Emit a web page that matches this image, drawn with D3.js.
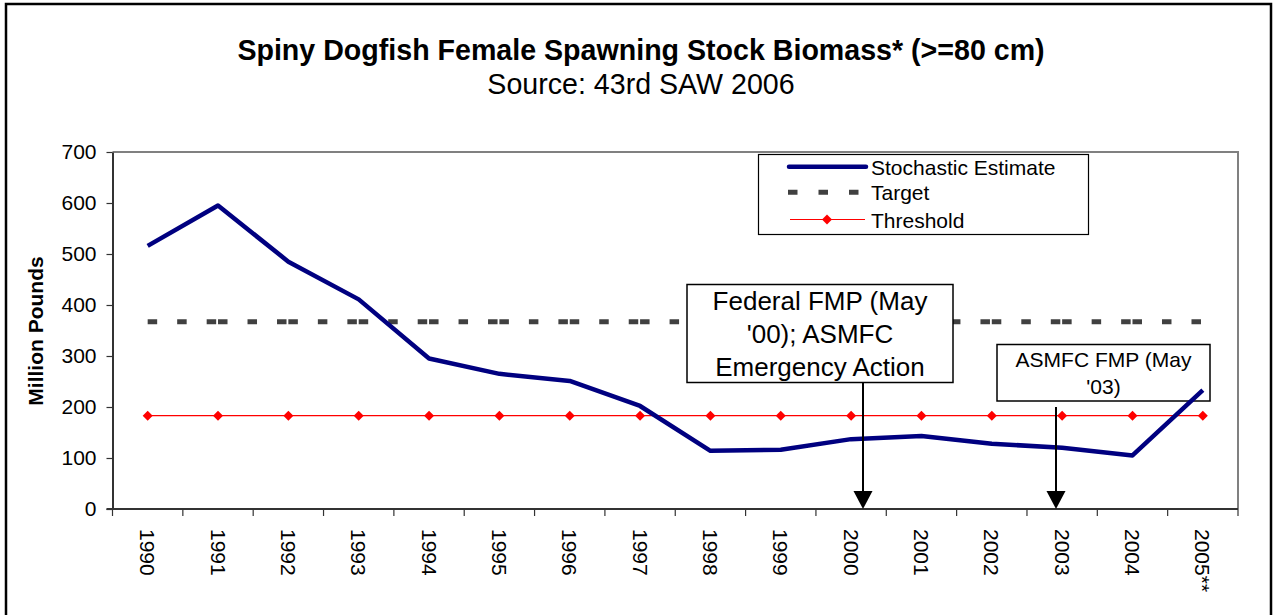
<!DOCTYPE html>
<html>
<head>
<meta charset="utf-8">
<script src="https://cdn.jsdelivr.net/npm/d3@7"></script>
<style>
  body { margin: 0; background: #fff; }
  svg { display: block; font-family: "Liberation Sans", Arial, sans-serif; }
</style>
</head>
<body>
<svg id="chart" width="1275" height="615"></svg>
<script>
// data
const years = ['1990', '1991', '1992', '1993', '1994', '1995', '1996', '1997',
  '1998', '1999', '2000', '2001', '2002', '2003', '2004', '2005**'];
const stochastic = [516, 595, 485, 411, 295, 265, 251, 202, 114, 116, 137, 143, 128, 120, 105, 233];
const target = [367, 367, 367, 367, 367, 367, 367, 367, 367, 367, 367, 367, 367, 367, 367, 367];
const threshold = [183, 183, 183, 183, 183, 183, 183, 183, 183, 183, 183, 183, 183, 183, 183, 183];
const yTicks = [0, 100, 200, 300, 400, 500, 600, 700];
const legendLabels = ['Stochastic Estimate', 'Target', 'Threshold'];

function drawChart() {
  const svg = d3.select('#chart');

  // outer frame
  svg.append('rect')
    .attr('x', 6).attr('y', 4)
    .attr('width', 1265).attr('height', 640)
    .attr('fill', 'none')
    .attr('stroke', '#000')
    .attr('stroke-width', 2.5);

  // titles
  svg.append('text')
    .attr('x', 641).attr('y', 59.5)
    .attr('text-anchor', 'middle')
    .attr('font-size', 28.6)
    .attr('font-weight', 'bold')
    .text('Spiny Dogfish Female Spawning Stock Biomass* (>=80 cm)');

  svg.append('text')
    .attr('x', 641).attr('y', 93.5)
    .attr('text-anchor', 'middle')
    .attr('font-size', 28.6)
    .text('Source: 43rd SAW 2006');

  const plotL = 112.5, plotR = 1238, plotT = 152, plotB = 509;

  const x = d3.scaleBand().domain(years).range([plotL, plotR]).padding(0);
  const y = d3.scaleLinear().domain([0, 700]).range([plotB, plotT]);
  const cx = d => x(d) + x.bandwidth() / 2;

  // plot area border (top and right grey)
  svg.append('path')
    .attr('d', `M${plotL},${plotT}H${plotR}V${plotB}`)
    .attr('fill', 'none')
    .attr('stroke', '#808080')
    .attr('stroke-width', 2);

  // y axis
  const yAxis = svg.append('g')
    .attr('transform', `translate(${plotL},0)`)
    .call(d3.axisLeft(y).tickValues(yTicks).tickSize(6).tickSizeOuter(0).tickPadding(10));
  yAxis.select('.domain').attr('stroke', '#333').attr('stroke-width', 2);
  yAxis.selectAll('.tick line').attr('stroke', '#333').attr('stroke-width', 1.2);
  yAxis.selectAll('.tick text')
    .attr('font-size', 21)
    .attr('font-family', '"Liberation Sans", Arial, sans-serif')
    .attr('fill', '#000');

  svg.append('text')
    .attr('transform', 'translate(43,331) rotate(-90)')
    .attr('text-anchor', 'middle')
    .attr('font-size', 21)
    .attr('font-weight', 'bold')
    .text('Million Pounds');

  // x axis
  svg.append('line')
    .attr('x1', plotL - 6).attr('x2', plotR)
    .attr('y1', plotB).attr('y2', plotB)
    .attr('stroke', '#333').attr('stroke-width', 2);

  const tickXs = years.map(d => x(d)).concat([plotR]);
  svg.append('g').selectAll('line')
    .data(tickXs)
    .join('line')
    .attr('x1', d => d).attr('x2', d => d)
    .attr('y1', plotB).attr('y2', plotB + 7)
    .attr('stroke', '#333').attr('stroke-width', 1.2);

  svg.append('g').selectAll('text')
    .data(years)
    .join('text')
    .attr('transform', d => `translate(${cx(d)},529) rotate(90)`)
    .attr('dy', '0.35em')
    .attr('font-size', 21)
    .text(d => d);

  // target line: Excel restarts the dash pattern on each segment
  const pairs = arr => d3.pairs(arr.map((v, i) => [cx(years[i]), y(v)]));
  svg.append('g').selectAll('line')
    .data(pairs(target))
    .join('line')
    .attr('x1', d => d[0][0]).attr('y1', d => d[0][1])
    .attr('x2', d => d[1][0]).attr('y2', d => d[1][1])
    .attr('stroke', '#404040')
    .attr('stroke-width', 5)
    .attr('stroke-dasharray', '9.5,20');

  // annotation boxes
  const notes = [
    { lines: ['Federal FMP (May', '\'00); ASMFC', 'Emergency Action'], x0: 687, y0: 284.5, w: 266, h: 98, fs: 26, lh: 33.4, base: 309.5, ax: 863, ay: 382.5 },
    { lines: ['ASMFC FMP (May', '\'03)'], x0: 997, y0: 344.5, w: 213, h: 56.5, fs: 21, lh: 27, base: 366.5, ax: 1056, ay: 407 }
  ];

  notes.forEach(n => {
    svg.append('rect')
      .attr('x', n.x0).attr('y', n.y0)
      .attr('width', n.w).attr('height', n.h)
      .attr('fill', '#fff')
      .attr('stroke', '#000')
      .attr('stroke-width', 1.5);
    n.lines.forEach((t, i) => {
      svg.append('text')
        .attr('x', n.x0 + n.w / 2)
        .attr('y', n.base + i * n.lh)
        .attr('text-anchor', 'middle')
        .attr('font-size', n.fs)
        .text(t);
    });
  });

  // threshold line with diamonds
  const line = d3.line().x((d, i) => cx(years[i])).y(d => y(d));
  svg.append('path')
    .attr('d', line(threshold))
    .attr('fill', 'none')
    .attr('stroke', '#ff0000')
    .attr('stroke-width', 1.2);

  const diamond = 'M0,-5L5,0L0,5L-5,0Z';
  svg.append('g').selectAll('path')
    .data(threshold)
    .join('path')
    .attr('transform', (d, i) => `translate(${cx(years[i])},${y(d)})`)
    .attr('d', diamond)
    .attr('fill', '#ff0000');

  // stochastic estimate
  svg.append('path')
    .attr('d', line(stochastic))
    .attr('fill', 'none')
    .attr('stroke', '#000080')
    .attr('stroke-width', 4.5)
    .attr('stroke-linejoin', 'round');

  // arrows
  notes.forEach(n => {
    svg.append('line')
      .attr('x1', n.ax).attr('x2', n.ax)
      .attr('y1', n.ay).attr('y2', plotB - 16)
      .attr('stroke', '#000').attr('stroke-width', 2);
    svg.append('path')
      .attr('d', `M${n.ax - 9.5},${plotB - 18}L${n.ax + 9.5},${plotB - 18}L${n.ax},${plotB}Z`)
      .attr('fill', '#000');
  });

  // legend
  const lg = svg.append('g');
  lg.append('rect')
    .attr('x', 758.5).attr('y', 154.5)
    .attr('width', 330).attr('height', 80)
    .attr('fill', '#fff')
    .attr('stroke', '#000')
    .attr('stroke-width', 1.2);

  const rowY = [166.7, 192.3, 219.5];
  lg.append('line')
    .attr('x1', 789).attr('x2', 866)
    .attr('y1', rowY[0]).attr('y2', rowY[0])
    .attr('stroke', '#000080').attr('stroke-width', 4.5)
    .attr('stroke-linecap', 'round');
  lg.append('line')
    .attr('x1', 788).attr('x2', 866)
    .attr('y1', rowY[1]).attr('y2', rowY[1])
    .attr('stroke', '#404040').attr('stroke-width', 5)
    .attr('stroke-dasharray', '9.5,21');
  lg.append('line')
    .attr('x1', 790).attr('x2', 865)
    .attr('y1', rowY[2]).attr('y2', rowY[2])
    .attr('stroke', '#ff0000').attr('stroke-width', 1.2);
  lg.append('path')
    .attr('transform', `translate(827,${rowY[2]})`)
    .attr('d', diamond)
    .attr('fill', '#ff0000');

  lg.selectAll('text.lab')
    .data(legendLabels)
    .join('text')
    .attr('class', 'lab')
    .attr('x', 871)
    .attr('y', (d, i) => rowY[i] + 8)
    .attr('font-size', 21)
    .text(d => d);
}

drawChart();
</script>
</body>
</html>
